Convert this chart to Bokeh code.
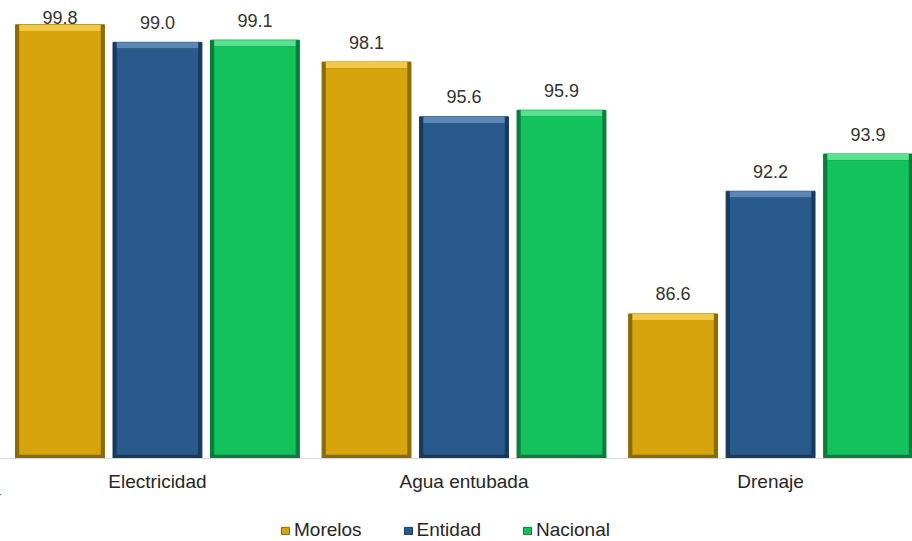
from bokeh.plotting import figure
from bokeh.layouts import column
from bokeh.models import ColumnDataSource, Range1d, FixedTicker, Legend, LegendItem
from bokeh.core.properties import value
from bokeh.embed import file_html
from bokeh.resources import INLINE

categories = ["Electricidad", "Agua entubada", "Drenaje"]
series = ["Morelos", "Entidad", "Nacional"]
morelos = [99.8, 98.1, 86.6]
entidad = [99.0, 95.6, 92.2]
nacional = [99.1, 95.9, 93.9]

main_colors = ["#D6A40C", "#2A5A8C", "#13C15D"]
dark_colors = ["#8C6A05", "#173A5E", "#0A7D3A"]
light_colors = ["#F0C84A", "#5E86B4", "#5CE08F"]

BASE = 80.0
Y_END = 100.91
PX_PER_UNIT = 458 / (Y_END - BASE)

p = figure(frame_width=912, frame_height=458, output_backend="svg", toolbar_location=None,
           x_range=Range1d(-0.512, 2.463), y_range=Range1d(BASE, Y_END),
           min_border_left=0, min_border_right=0, min_border_top=0, min_border_bottom=0,
           outline_line_color=None)
p.xgrid.visible = False
p.ygrid.visible = False
p.yaxis.visible = False

offsets = [-0.318, 0.0, 0.318]
width = 0.29
xpad = 0.012
ypad = 0.17
band = 0.28
label_gap = 20 / PX_PER_UNIT
label_cap = Y_END - 17 / PX_PER_UNIT

sources = []
for vals, name, off, mc, dc, lc in zip([morelos, entidad, nacional], series, offsets,
                                        main_colors, dark_colors, light_colors):
    xs = [i + off for i in range(len(categories))]
    src = ColumnDataSource(dict(
        x=xs, top=vals, bottom=[BASE] * len(vals),
        top_in=[v - band for v in vals], bottom_in=[BASE + ypad] * len(vals),
        band_bottom=[v - band for v in vals],
        label_y=[min(v + label_gap, label_cap) for v in vals],
        label=[f"{v:.1f}" for v in vals]))
    sources.append(src)
    p.vbar(x="x", top="top", bottom="bottom", width=width, source=src,
           fill_color=dc, line_color=dc, line_width=1)
    p.vbar(x="x", top="top", bottom="band_bottom", width=width - 2 * xpad, source=src,
           fill_color=lc, line_color=None)
    p.vbar(x="x", top="top_in", bottom="bottom_in", width=width - 2 * xpad, source=src,
           fill_color=mc, line_color=None)
    p.text(x="x", y="label_y", text="label", source=src, text_align="center",
           text_baseline="middle", text_font=value("Liberation Sans"),
           text_font_size="18px", text_color="#333333")

p.xaxis.ticker = FixedTicker(ticks=[0, 1, 2])
p.xaxis.major_label_overrides = {i: c for i, c in enumerate(categories)}
p.xaxis.major_tick_line_color = None
p.xaxis.minor_tick_line_color = None
p.xaxis.axis_line_color = "#D9D9D9"
p.xaxis.major_label_text_font = "Liberation Sans"
p.xaxis.major_label_text_font_size = "19px"
p.xaxis.major_label_text_color = "#262626"
p.xaxis.major_label_standoff = 6

# legend strip below the chart (same series data, kept outside this strip's visible ranges)
p2 = figure(width=912, height=47, output_backend="svg", toolbar_location=None,
            x_range=Range1d(10, 11), y_range=Range1d(0, 1),
            min_border_left=0, min_border_right=0, min_border_top=0, min_border_bottom=0,
            outline_line_color=None)
p2.axis.visible = False
p2.grid.visible = False
items = []
for name, src, mc, dc in zip(series, sources, main_colors, dark_colors):
    r = p2.vbar(x="x", top="top", bottom="bottom", width=width, source=src,
                fill_color=mc, line_color=dc, line_width=1)
    items.append(LegendItem(label=name, renderers=[r]))
legend = Legend(items=items, orientation="horizontal", location=(280, 0),
                glyph_width=10, glyph_height=9, label_standoff=4, spacing=41,
                label_text_font="Liberation Sans", label_text_font_size="19px",
                label_text_color="#262626", label_height=19,
                border_line_color=None, background_fill_alpha=0,
                margin=0, padding=3)
p2.add_layout(legend, "center")

open("out.html", "w").write(file_html(column(p, p2, spacing=0), INLINE))
